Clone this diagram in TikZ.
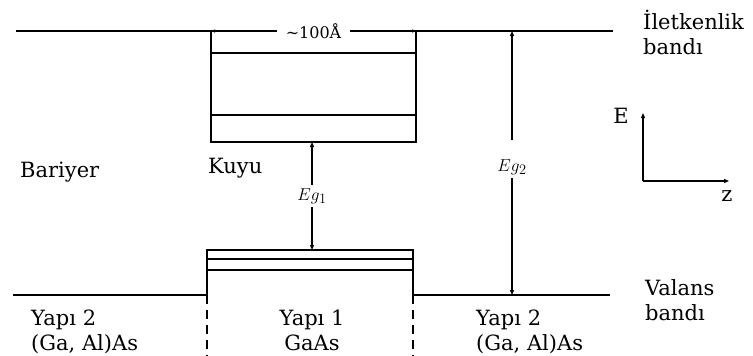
\documentclass[tikz,border=0pt]{standalone}
\usepackage{fontspec}
\setmainfont{DejaVu Serif}
\usetikzlibrary{arrows.meta,positioning}
\tikzset{
    band line/.style={line width=1.7pt,line join=miter},
    level line/.style={line width=1.4pt},
    gap arrow/.style={line width=1.1pt,-{Triangle[length=5pt,width=4pt]}},
    dim arrow/.style={line width=0.8pt,{Triangle[length=4pt,width=3pt]}-{Triangle[length=4pt,width=3pt]}},
    region label/.style={font=\fontsize{21}{25}\selectfont,inner sep=0pt,align=left},
    gap label/.style={font=\fontsize{19}{21}\selectfont},
}

\begin{document}
\begin{tikzpicture}[x=1pt,y=-1pt]
\useasboundingbox (0,0) rectangle (753,356);
% conduction band with the well
\coordinate (cb_l) at (16,31);
\coordinate (cb_r) at (613,31);
\coordinate (wt_l) at (211,31);
\coordinate (wt_r) at (416,31);
\coordinate (wb_l) at (211,142);
\coordinate (wb_r) at (416,142);
\draw[band line] (cb_l) -- (cb_r);
\draw[band line] (wt_l) -- (wb_l) -- (wb_r) -- (wt_r);
\foreach \y in {53,115}
    \draw[level line] (211,\y) -- (416,\y);
% valence band
\coordinate (vb_l) at (13,295);
\coordinate (vw_l) at (207,295);
\coordinate (vt_l) at (207,250);
\coordinate (vt_r) at (413,250);
\coordinate (vw_r) at (413,295);
\coordinate (vb_r) at (610,295);
\draw[band line] (vb_l) -- (vw_l) -- (vt_l) -- (vt_r) -- (vw_r) -- (vb_r);
\foreach \y in {259,270}
    \draw[level line] (207,\y) -- (413,\y);
\draw[band line,dash pattern=on 9pt off 6pt] (vw_l) -- (207,356);
\draw[band line,dash pattern=on 9pt off 6pt] (vw_r) -- (413,356);
% well width
\draw[dim arrow] (wt_l) -- (wt_r)
    node[midway,fill=white,inner xsep=9pt,inner ysep=1pt,font=\fontsize{16}{18}\selectfont] (width) {\textasciitilde100Å};
% band gaps
\node[gap label] (eg1) at (312,196) {$Eg_1$};
\coordinate (eg1_top) at (312,142);
\coordinate (eg1_bot) at (312,250);
\draw[gap arrow] (eg1) -- (eg1_top);
\draw[gap arrow] (eg1) -- (eg1_bot);
\node[gap label] (eg2) at (512,167) {$Eg_2$};
\coordinate (eg2_top) at (512,31);
\coordinate (eg2_bot) at (512,295);
\draw[gap arrow] ([yshift=16pt]eg2.north) -- (eg2_top);
\draw[gap arrow] (eg2) -- (eg2_bot);
% labels
\node[region label,anchor=base west] (barrier) at (20,177) {Bariyer};
\node[region label,anchor=base west] (well) at (208,173) {Kuyu};
\node[region label,anchor=base west] (cond) at (643,54) {İletkenlik\\bandı};
\node[region label,anchor=base west] (val) at (645,320) {Valans\\bandı};
\node[region label,anchor=base west] (left) at (31,350) {Yapı 2\\(Ga, Al)As};
\node[region label,anchor=base,align=center] (mid) at (312,350) {Yapı 1\\GaAs};
\node[region label,anchor=base west] (right) at (476,350) {Yapı 2\\(Ga, Al)As};
% axes
\coordinate (origin) at (643,181);
\coordinate (e_end) at (643,113);
\coordinate (z_end) at (729,181);
\draw[gap arrow] (origin) -- (e_end);
\draw[gap arrow] (origin) -- (z_end);
\node[region label,anchor=base] (e_lbl) at (621,123) {E};
\node[region label,anchor=base] (z_lbl) at (727,201) {z};
\end{tikzpicture}
\end{document}
